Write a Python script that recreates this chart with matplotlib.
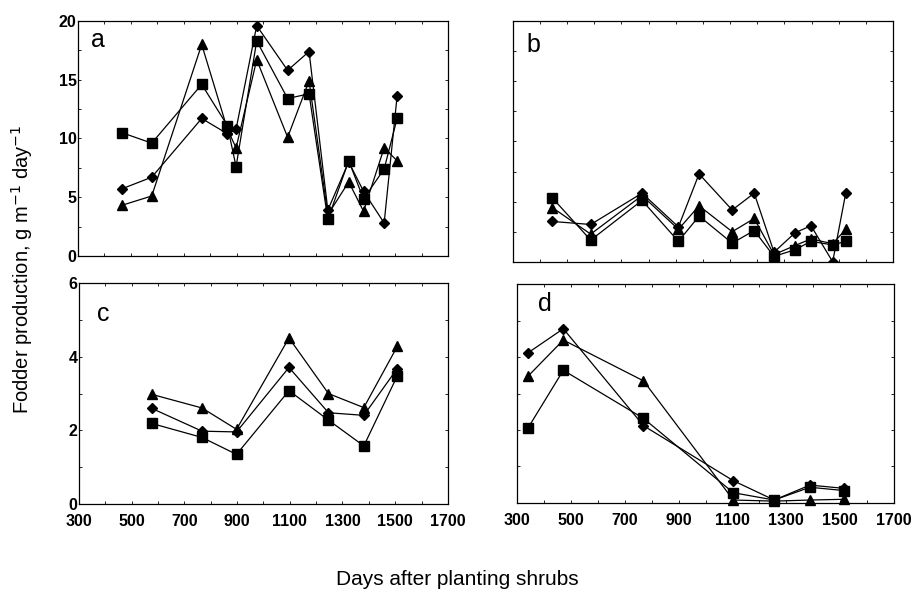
import matplotlib
matplotlib.use("Agg")
import matplotlib.pyplot as plt
from matplotlib.ticker import MultipleLocator

plt.rcParams['font.family'] = ['Liberation Sans', 'DejaVu Sans']

# Panel a
days_a = [465, 579, 768, 865, 898, 976, 1093, 1174, 1245, 1324, 1380, 1458, 1507]
a_square = [10.5, 9.6, 14.6, 11.1, 7.6, 18.3, 13.4, 13.8, 3.1, 8.1, 4.85, 7.4, 11.7]
a_diamond = [5.7, 6.7, 11.7, 10.4, 10.8, 19.6, 15.8, 17.4, 3.9, 8.0, 5.5, 2.8, 13.6]
a_triangle = [4.3, 5.1, 18.0, 10.8, 9.2, 16.7, 10.1, 14.9, 3.5, 6.3, 3.8, 9.2, 8.1]

# Panel b
days_b = [446, 587, 776, 910, 986, 1108, 1189, 1262, 1339, 1398, 1478, 1526]
b_square = [5.3, 1.8, 5.1, 1.7, 3.8, 1.55, 2.6, 0.45, 1.0, 1.7, 1.4, 1.7]
b_diamond = [3.35, 3.1, 5.7, 2.9, 7.3, 4.3, 5.7, 0.8, 2.4, 3.0, 0.0, 5.7]
b_triangle = [4.5, 2.3, 5.5, 2.7, 4.65, 2.5, 3.6, 0.6, 1.35, 1.9, 1.5, 2.7]

# Panel c
days_c = [576, 767, 898, 1097, 1247, 1381, 1508]
c_square = [2.19, 1.81, 1.35, 3.08, 2.28, 1.58, 3.48]
c_diamond = [2.6, 1.98, 1.96, 3.71, 2.48, 2.41, 3.68]
c_triangle = [2.98, 2.61, 2.03, 4.51, 3.0, 2.62, 4.28]

# Panel d
days_d = [340, 471, 769, 1103, 1255, 1388, 1514]
d_square = [2.06, 3.64, 2.32, 0.28, 0.08, 0.43, 0.34]
d_diamond = [4.12, 4.78, 2.12, 0.61, 0.08, 0.49, 0.40]
d_triangle = [3.48, 4.47, 3.35, 0.08, 0.05, 0.08, 0.10]

x_ticks = [300, 500, 700, 900, 1100, 1300, 1500, 1700]

fig = plt.figure(figsize=(9.14, 5.91), dpi=100)
ax_a = fig.add_axes([0.0853, 0.567, 0.405, 0.3975])
ax_b = fig.add_axes([0.561, 0.557, 0.416, 0.4075])
ax_c = fig.add_axes([0.0864, 0.147, 0.4036, 0.374])
ax_d = fig.add_axes([0.566, 0.149, 0.412, 0.370])

panels = [
    (ax_a, days_a, a_square, a_diamond, a_triangle, 'a', 20, 5, 2.5, (0.055, 0.92)),
    (ax_b, days_b, b_square, b_diamond, b_triangle, 'b', 20, 5, 2.5, (0.053, 0.90)),
    (ax_c, days_c, c_square, c_diamond, c_triangle, 'c', 6, 2, 1, (0.065, 0.86)),
    (ax_d, days_d, d_square, d_diamond, d_triangle, 'd', 6, 2, 1, (0.074, 0.91)),
]

for ax, days, sq, dia, tri, letter, ymax, major, minor, pos in panels:
    ax.plot(days, sq, color='black', lw=0.9, marker='s', ms=7, clip_on=False)
    ax.plot(days, dia, color='black', lw=0.9, marker='D', ms=5.5, clip_on=True)
    ax.plot(days, tri, color='black', lw=0.9, marker='^', ms=7, clip_on=False)
    ax.set_xlim(300, 1700)
    ax.set_ylim(0, ymax)
    ax.xaxis.set_major_locator(MultipleLocator(200))
    ax.xaxis.set_minor_locator(MultipleLocator(100))
    ax.yaxis.set_major_locator(MultipleLocator(major))
    ax.yaxis.set_minor_locator(MultipleLocator(minor))
    ax.tick_params(which='both', direction='in', top=True, right=True,
                   length=2.5, width=0.6)
    for s in ax.spines.values():
        s.set_linewidth(0.9)
    ax.text(pos[0], pos[1], letter, transform=ax.transAxes, fontsize=18,
            ha='center', va='center')

for ax in (ax_a, ax_c):
    for lab in ax.get_yticklabels():
        lab.set_fontweight('bold')
        lab.set_fontsize(11.5)
    ax.tick_params(axis='y', pad=1)
for ax in (ax_b, ax_d):
    ax.set_yticklabels([])
for ax in (ax_a, ax_b):
    ax.set_xticklabels([])
for ax in (ax_c, ax_d):
    ax.set_xticks(x_ticks)
    ax.set_xticklabels([str(t) for t in x_ticks], fontweight='bold', fontsize=11.5)
    ax.tick_params(axis='x', pad=7)

fig.text(0.024, 0.545, 'Fodder production, g m$^{-1}$ day$^{-1}$', rotation=90,
         ha='center', va='center', fontsize=14.5)
fig.text(0.5, 0.019, 'Days after planting shrubs', ha='center', va='center',
         fontsize=15)

fig.savefig('out.png', dpi=100)
